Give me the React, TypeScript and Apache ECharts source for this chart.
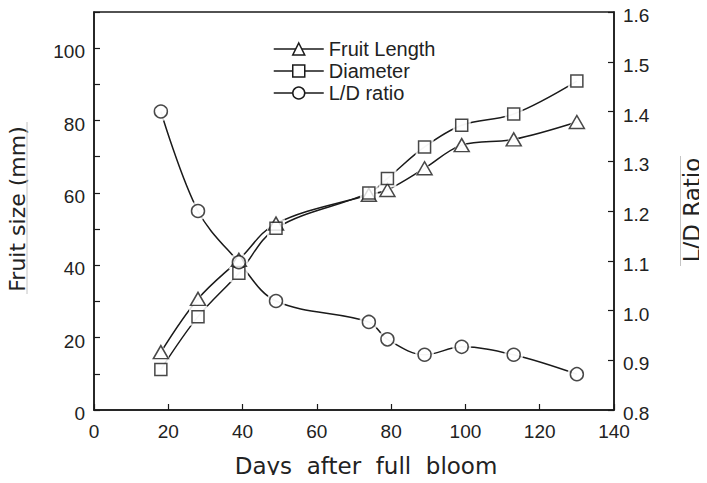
import React, { useEffect, useRef } from "react";
import * as echarts from "echarts";

// Days after full bloom at which fruit were sampled
const days = [18, 28, 39, 49, 74, 79, 89, 99, 113, 130];
// Fruit length (mm)
const fruitLength = [16, 30.7, 41.5, 51.5, 59.5, 60.8, 66.8, 73.2, 74.8, 79.6];
// Fruit diameter (mm)
const diameter = [11.2, 25.8, 37.8, 50.2, 60.0, 64.0, 72.7, 78.7, 81.8, 90.9];
// Length / diameter ratio
const ldRatio = [1.4, 1.2, 1.097, 1.019, 0.977, 0.942, 0.911, 0.927, 0.911, 0.872];

const seriesNames = ["Fruit Length", "Diameter", "L/D ratio"];
const xTitle = "Days  after  full  bloom";
const leftTitle = "Fruit size (mm)";
const rightTitle = "L/D Ratio";

const INK = "#1a1a1a";
const TEXT = "#222";
const TICK_FONT = "Liberation Sans, Arial, sans-serif";
const TITLE_FONT = "DejaVu Sans, sans-serif";

type Sym = { shape: string; size: number | number[] };

function pairs(values: number[]) {
  return days.map((d, i) => [d, values[i]]);
}

function grow(size: number | number[], by: number) {
  return Array.isArray(size) ? size.map((s) => s + by) : size + by;
}

// Each curve: a smoothed line, a white halo that opens a small gap around
// every marker, then the hollow marker itself on top.
function curve(name: string, values: number[], yAxisIndex: number, sym: Sym) {
  const data = pairs(values);
  return [
    {
      name,
      type: "line",
      yAxisIndex,
      data,
      smooth: 0.35,
      showSymbol: false,
      symbol: sym.shape,
      symbolSize: sym.size,
      lineStyle: { color: INK, width: 1.5 },
      itemStyle: { color: "#fff", borderColor: INK, borderWidth: 1.5 },
      z: 2,
      silent: true,
    },
    {
      name: name + " halo",
      type: "scatter",
      yAxisIndex,
      data,
      symbol: sym.shape,
      symbolSize: grow(sym.size, 6),
      itemStyle: { color: "#fff", borderWidth: 0 },
      z: 3,
      silent: true,
    },
    {
      name: name + " marker",
      type: "scatter",
      yAxisIndex,
      data,
      symbol: sym.shape,
      symbolSize: sym.size,
      itemStyle: { color: "#fff", borderColor: INK, borderWidth: 1.5 },
      z: 4,
      silent: true,
    },
  ];
}

export default function App() {
  const ref = useRef<HTMLDivElement>(null);

  useEffect(() => {
    if (!ref.current) return;
    const chart = echarts.init(ref.current, undefined, { renderer: "svg" });

    const axisLine = { show: true, lineStyle: { color: INK, width: 1.5 } };
    const axisTick = { show: true, inside: true, length: 6, lineStyle: { color: INK, width: 1.2 } };
    const tickLabel = { color: TEXT, fontFamily: TICK_FONT, fontSize: 19 };
    // vertical-axis labels sit a few pixels below their ticks
    const lowered = {
      t: { color: TEXT, fontFamily: TICK_FONT, fontSize: 19, padding: [7, 0, 0, 0] },
    };

    chart.setOption({
      animation: false,
      backgroundColor: "#fff",
      grid: {
        left: 94,
        top: 12,
        width: 520,
        height: 398,
        show: true,
        borderColor: INK,
        borderWidth: 1.5,
        backgroundColor: "transparent",
      },
      legend: {
        data: seriesNames,
        orient: "vertical",
        left: 268,
        top: 34,
        itemWidth: 50,
        itemHeight: 15,
        itemGap: 2,
        textStyle: { color: TEXT, fontFamily: TICK_FONT, fontSize: 20, lineHeight: 20 },
        itemStyle: { color: "#fff", borderColor: INK, borderWidth: 1.5 },
        lineStyle: { color: INK, width: 1.5 },
        selectedMode: false,
      },
      xAxis: {
        type: "value",
        min: 0,
        max: 140,
        interval: 20,
        axisLine,
        axisTick,
        splitLine: { show: false },
        axisLabel: { ...tickLabel, margin: 12 },
      },
      yAxis: [
        {
          type: "value",
          min: 0,
          max: 110,
          interval: 10,
          position: "left",
          axisLine,
          axisTick,
          splitLine: { show: false },
          axisLabel: {
            ...tickLabel,
            margin: 9,
            rich: lowered,
            formatter: (v: number) => (v % 20 === 0 ? `{t|${v}}` : ""),
          },
        },
        {
          type: "value",
          min: 0.8,
          max: 1.6,
          interval: 0.1,
          position: "right",
          axisLine,
          axisTick,
          splitLine: { show: false },
          axisLabel: {
            ...tickLabel,
            margin: 9,
            rich: lowered,
            formatter: (v: number) => `{t|${v.toFixed(1)}}`,
          },
        },
      ],
      series: [
        ...curve(seriesNames[0], fruitLength, 0, { shape: "triangle", size: [15, 13] }),
        ...curve(seriesNames[1], diameter, 0, { shape: "rect", size: 12 }),
        ...curve(seriesNames[2], ldRatio, 1, { shape: "circle", size: 13 }),
      ],
      graphic: [
        {
          type: "text",
          x: 366,
          y: 466,
          style: {
            text: xTitle,
            fill: TEXT,
            fontFamily: TITLE_FONT,
            fontSize: 23,
            align: "center",
            verticalAlign: "middle",
          },
        },
        {
          type: "text",
          x: 17,
          y: 209,
          rotation: Math.PI / 2,
          style: {
            text: leftTitle,
            fill: TEXT,
            fontFamily: TITLE_FONT,
            fontSize: 22,
            align: "center",
            verticalAlign: "middle",
          },
        },
        {
          type: "line",
          shape: { x1: 27, y1: 122, x2: 27, y2: 294 },
          style: { stroke: "#c4c4c4", lineWidth: 1 },
        },
        {
          type: "text",
          x: 692,
          y: 210,
          rotation: Math.PI / 2,
          style: {
            text: rightTitle,
            fill: TEXT,
            fontFamily: TITLE_FONT,
            fontSize: 23,
            align: "center",
            verticalAlign: "middle",
          },
        },
        {
          type: "line",
          shape: { x1: 680.5, y1: 156, x2: 680.5, y2: 266 },
          style: { stroke: "#c4c4c4", lineWidth: 1 },
        },
      ],
    });

    return () => chart.dispose();
  }, []);

  return <div ref={ref} style={{ width: 707, height: 483, margin: -8 }} />;
}
